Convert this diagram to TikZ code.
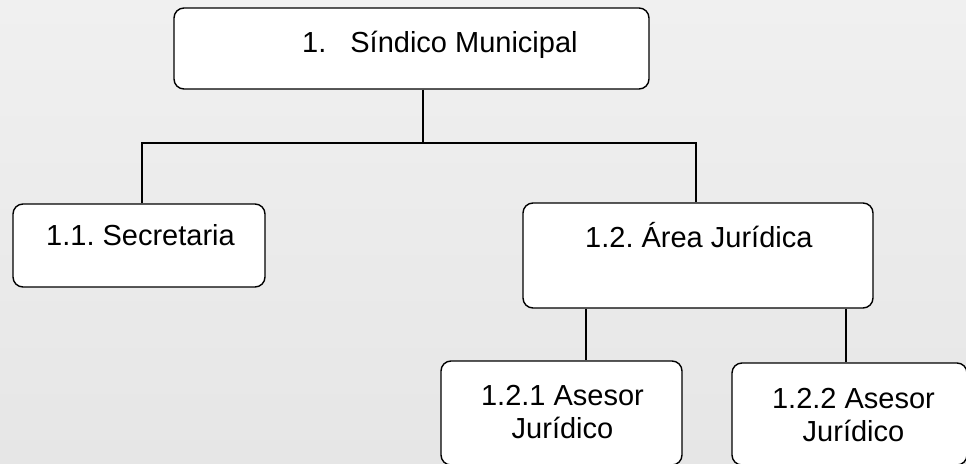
\documentclass[tikz,border=0pt]{standalone}
\usepackage{fontspec}
\setmainfont{Liberation Sans}
\usepackage{tikz}
\usetikzlibrary{positioning, calc}
\definecolor{fondogris}{HTML}{E6E6E6}
\definecolor{fondoclaro}{HTML}{F0F0F0}
\frenchspacing

\begin{document}
\begin{tikzpicture}[x=1pt, y=-1pt,
    unidad/.style={draw, line width=1.4pt, rounded corners=10pt, fill=white, inner sep=0pt},
    rotulo/.style={inner sep=0pt, font=\fontsize{29}{33}\selectfont, align=center},
    enlace/.style={line width=1.4pt}]
        \useasboundingbox (0,0) rectangle (966,463);
        \clip (0,0) rectangle (966,463);
        % faded background
        \shade[top color=fondoclaro, bottom color=fondogris] (0,0) rectangle (966,463);
        % Boxes
        \node[unidad, minimum width=475pt, minimum height=81pt] (sindico) at (411.5,48.5) {};
        \node[unidad, minimum width=252pt, minimum height=83pt] (secretaria) at (139,245.5) {};
        \node[unidad, minimum width=350pt, minimum height=105pt] (area) at (698,255.5) {};
        \node[unidad, minimum width=241pt, minimum height=104pt] (asesor1) at (561.5,413) {};
        \node[unidad, minimum width=235pt, minimum height=102pt] (asesor2) at (849.5,414) {};
        % Labels
        \node[rotulo, anchor=base west] (tsindico) at (302,52) {1.\hspace{24pt}Síndico Municipal};
        \node[rotulo, anchor=base west] (tsecretaria) at (46,245) {1.1. Secretaria};
        \node[rotulo, anchor=base west] (tarea) at (585,247) {1.2. Área Jurídica};
        \node[rotulo, anchor=north] (tasesor1) at (562.5,385) {1.2.1 Asesor\\Jurídico};
        \node[rotulo, anchor=north] (tasesor2) at (853.5,388) {1.2.2 Asesor\\Jurídico};
        % Connectors
        \coordinate (bus) at (423,143);
        \draw[enlace] (sindico.south -| bus) -- (bus);
        \draw[enlace] ([xshift=3pt]secretaria.north) |- (bus) -| ([xshift=-2pt]area.north);
        \draw[enlace] (area.south -| asesor1.north) ++(24.5,0) coordinate (a1)
          -- (a1 |- asesor1.north);
        \draw[enlace] (area.south -| asesor2.north) ++(-3.5,0) coordinate (a2)
          -- (a2 |- asesor2.north);
\end{tikzpicture}
\end{document}
